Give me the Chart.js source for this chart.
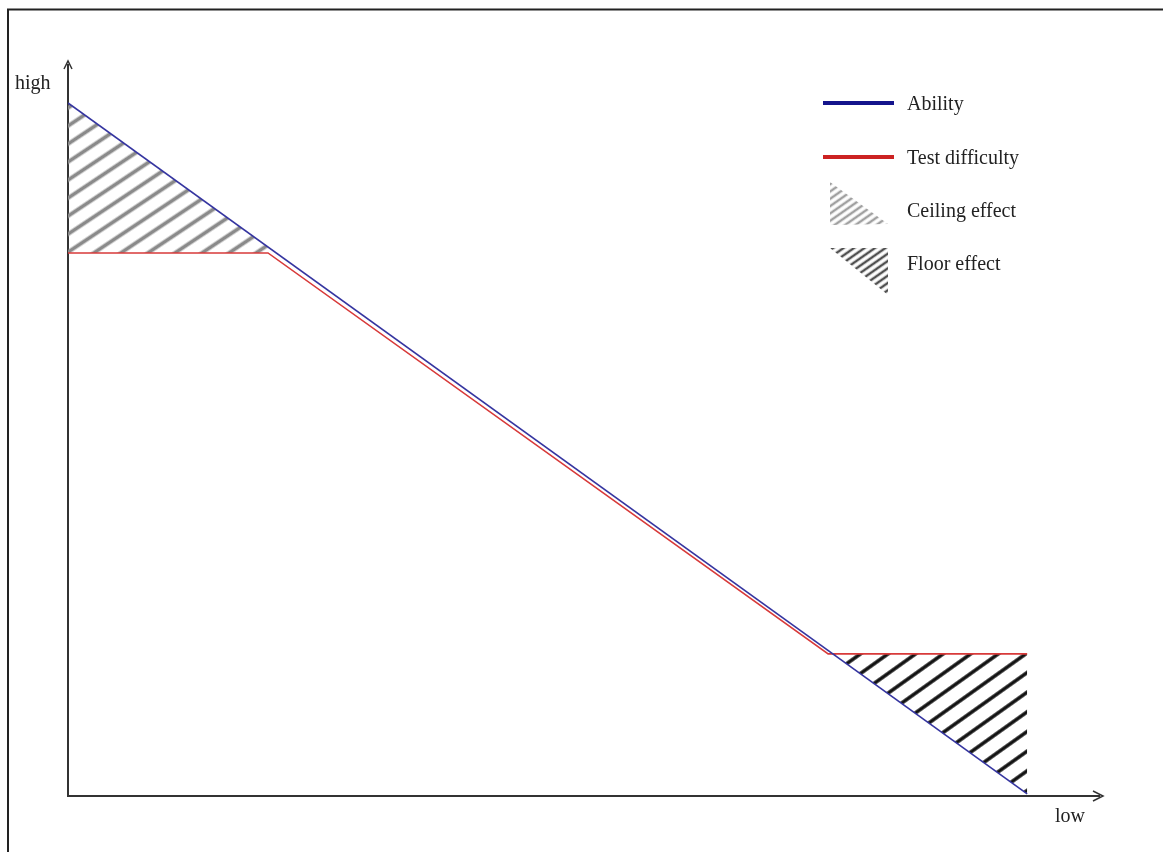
<!DOCTYPE html>
<html>
<head>
<meta charset="utf-8">
<title>Ceiling and floor effect</title>
<script src="https://cdn.jsdelivr.net/npm/chart.js@4.4.1/dist/chart.umd.min.js"></script>
<style>
  html, body { margin: 0; padding: 0; background: #fff; }
  #wrap { width: 1163px; height: 852px; position: relative; }
</style>
</head>
<body>
<div id="wrap"><canvas id="chart" width="1163" height="852"></canvas></div>
<script>
// Data (axis units: x 0..100 = left..right end of the ability line, y 0..100 = bottom..top)
const abilityX = [0, 100];
const abilityY = [100, 0.3];
const difficultyX = [0, 20.85, 79.25, 100];
const difficultyY = [78.35, 78.35, 20.5, 20.5];
const ceilingX = [0, 21.72];
const ceilingY = [100, 78.35];
const ceilingBase = 78.35;
const floorX = [79.74, 100];
const floorY = [20.5, 0.3];
const floorBase = 20.5;
const legendLabels = ['Ability', 'Test difficulty', 'Ceiling effect', 'Floor effect'];
const axisLabels = ['high', 'low'];

const canvas = document.getElementById('chart');
const ctx = canvas.getContext('2d');
const serif = "'Liberation Serif', 'Times New Roman', serif";

// Hatch pattern: horizontal stripes rotated so they rise to the right
function makeHatch(spacing, angle, color, lw) {
    const c = document.createElement('canvas');
    c.width = 8;
    c.height = spacing;
    const g = c.getContext('2d');
    g.fillStyle = color;
    g.fillRect(0, (spacing - lw) / 2, 8, lw);
    const p = ctx.createPattern(c, 'repeat');
    p.setTransform(new DOMMatrix().rotate(-angle));
    return p;
}

const ceilingHatch = makeHatch(15, 33.7, '#8a8a8a', 3.8);
const floorHatch = makeHatch(16, 35.5, '#111', 3.5);
const ceilingIcon = makeHatch(6, 35, '#a0a0a0', 2.5);
const floorIcon = makeHatch(6, 35, '#505050', 2.5);

const toPoints = (xs, ys) => xs.map((x, i) => ({ x, y: ys[i] }));

// Frame, axes, arrows, labels and legend
const decorations = {
    id: 'decorations',
    beforeDraw(chart) {
        const c = chart.ctx;
        c.save();
        c.fillStyle = '#fff';
        c.fillRect(0, 0, chart.width, chart.height);
        c.strokeStyle = '#222';
        c.lineWidth = 2;
        c.beginPath();
        c.moveTo(8, 852);
        c.lineTo(8, 9.5);
        c.lineTo(1163, 9.5);
        c.stroke();
        c.restore();
    },
    beforeDatasetsDraw(chart) {
        const c = chart.ctx;
        const x0 = chart.scales.x.getPixelForValue(0);
        const y0 = chart.scales.y.getPixelForValue(0);
        const { top, right } = chart.chartArea;
        c.save();
        c.strokeStyle = '#333';
        c.lineWidth = 2;
        c.beginPath();
        c.moveTo(x0, top + 2);
        c.lineTo(x0, y0);
        c.lineTo(right - 2, y0);
        c.stroke();
        // arrow heads
        c.lineWidth = 1.5;
        c.beginPath();
        c.moveTo(x0 - 4, top + 7);
        c.lineTo(x0, top - 1);
        c.lineTo(x0 + 4, top + 7);
        c.moveTo(right - 9, y0 - 5);
        c.lineTo(right + 1, y0);
        c.lineTo(right - 9, y0 + 5);
        c.stroke();
        c.restore();
    },
    afterDraw(chart) {
        const c = chart.ctx;
        c.save();
        c.fillStyle = '#222';
        c.font = '20px ' + serif;
        c.textBaseline = 'alphabetic';
        c.textAlign = 'left';
        c.fillText(axisLabels[0], 15, 89);
        c.fillText(axisLabels[1], 1055, 822);

        // legend
        const lx = 823, tx = 907;
        const rows = [103, 157, 210, 263];
        c.lineWidth = 4;
        c.strokeStyle = '#14148c';
        c.beginPath(); c.moveTo(lx, rows[0]); c.lineTo(lx + 71, rows[0]); c.stroke();
        c.strokeStyle = '#cc2222';
        c.beginPath(); c.moveTo(lx, rows[1]); c.lineTo(lx + 71, rows[1]); c.stroke();

        c.fillStyle = ceilingIcon;
        c.beginPath();
        c.moveTo(830, 182); c.lineTo(830, 225); c.lineTo(888, 224); c.closePath();
        c.fill();
        c.fillStyle = floorIcon;
        c.beginPath();
        c.moveTo(830, 248); c.lineTo(888, 248); c.lineTo(888, 295); c.closePath();
        c.fill();

        c.fillStyle = '#222';
        c.textBaseline = 'middle';
        legendLabels.forEach((t, i) => c.fillText(t, tx, rows[i] + 2));
        c.restore();
    }
};

new Chart(ctx, {
    type: 'line',
    data: {
        datasets: [
            {
                label: legendLabels[0],
                data: toPoints(abilityX, abilityY),
                borderColor: '#3535a0',
                borderWidth: 1.6,
                fill: false,
            },
            {
                label: legendLabels[1],
                data: toPoints(difficultyX, difficultyY),
                borderColor: '#d83a3a',
                borderWidth: 1.6,
                fill: false,
            },
            {
                label: legendLabels[2],
                data: toPoints(ceilingX, ceilingY),
                borderWidth: 0,
                borderColor: 'rgba(0,0,0,0)',
                backgroundColor: ceilingHatch,
                fill: { value: ceilingBase },
            },
            {
                label: legendLabels[3],
                data: toPoints(floorX, floorY),
                borderWidth: 0,
                borderColor: 'rgba(0,0,0,0)',
                backgroundColor: floorHatch,
                fill: { value: floorBase },
            },
        ],
    },
    options: {
        responsive: false,
        animation: false,
        devicePixelRatio: 1,
        layout: { padding: { left: 68, top: 62, right: 61, bottom: 56 } },
        elements: { point: { radius: 0 }, line: { tension: 0 } },
        scales: {
            x: { type: 'linear', min: 0, max: 107.8, display: false },
            y: { type: 'linear', min: 0, max: 105.9, display: false },
        },
        plugins: {
            legend: { display: false },
            tooltip: { enabled: false },
        },
    },
    plugins: [decorations],
});
</script>
</body>
</html>
